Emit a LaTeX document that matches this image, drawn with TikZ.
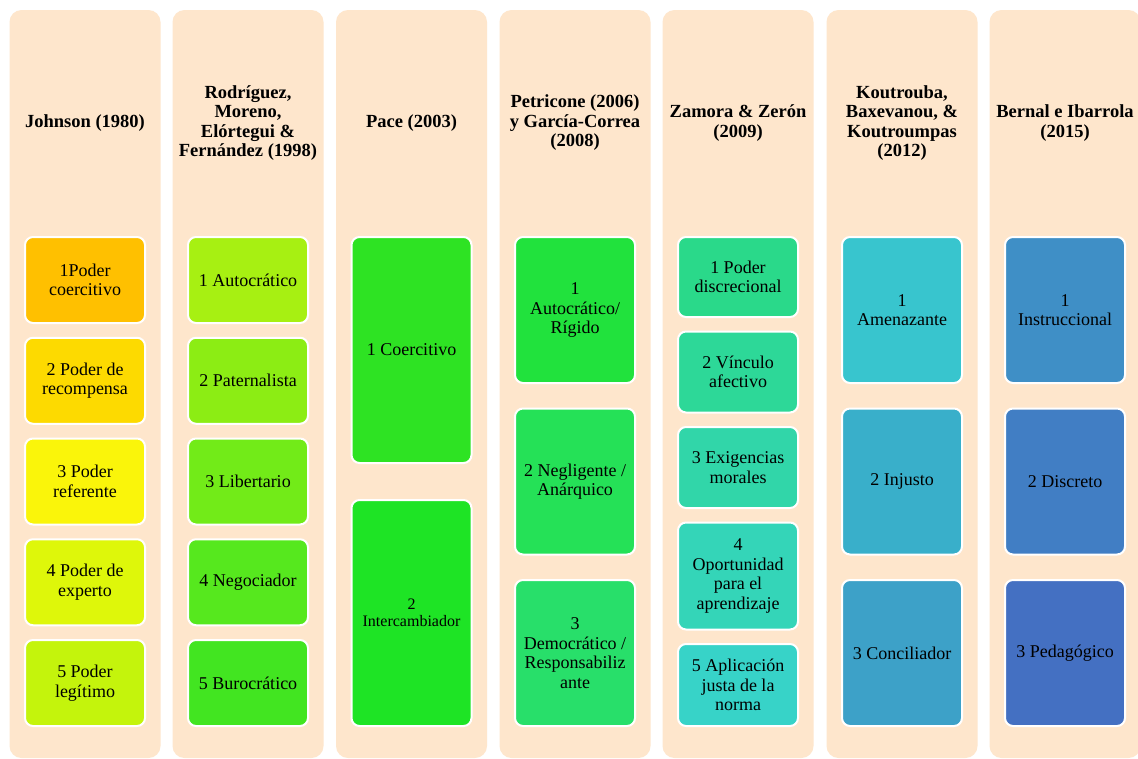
\documentclass[tikz,border=0pt]{standalone}
\usepackage{fontspec}
\setmainfont{LiberationSerif}[Extension=.ttf, UprightFont=*-Regular, BoldFont=*-Bold, ItalicFont=*-Italic, BoldItalicFont=*-BoldItalic]
\usetikzlibrary{positioning}

\definecolor{colbg}{HTML}{FEE6CC}
% Johnson
\definecolor{jA}{HTML}{FFC000}
\definecolor{jB}{HTML}{FDDA00}
\definecolor{jC}{HTML}{FAF50A}
\definecolor{jD}{HTML}{DEF70A}
\definecolor{jE}{HTML}{C4F40C}
% Rodriguez
\definecolor{rA}{HTML}{A7F012}
\definecolor{rB}{HTML}{8CED14}
\definecolor{rC}{HTML}{72EB18}
\definecolor{rD}{HTML}{56E81E}
\definecolor{rE}{HTML}{42E521}
% Pace
\definecolor{pA}{HTML}{2EE323}
\definecolor{pB}{HTML}{1EE425}
% Petricone
\definecolor{gA}{HTML}{21E23D}
\definecolor{gB}{HTML}{25E157}
\definecolor{gC}{HTML}{28DF6A}
% Zamora
\definecolor{zA}{HTML}{2AD98A}
\definecolor{zB}{HTML}{2DD898}
\definecolor{zC}{HTML}{31D6A9}
\definecolor{zD}{HTML}{34D5B8}
\definecolor{zE}{HTML}{37D3C8}
% Koutrouba
\definecolor{kA}{HTML}{38C5CE}
\definecolor{kB}{HTML}{39AFCA}
\definecolor{kC}{HTML}{3DA1C8}
% Bernal
\definecolor{bA}{HTML}{3F8FC6}
\definecolor{bB}{HTML}{417EC4}
\definecolor{bC}{HTML}{4470C2}

\begin{document}
\begin{tikzpicture}[x=1pt, y=-1pt,
    heading/.style={align=center, font=\fontsize{18.5}{19.5}\selectfont\bfseries},
    entry/.style={draw=white, line width=2pt, rounded corners=8pt, align=center,
      minimum width=120pt, inner sep=2pt, font=\fontsize{18}{19.5}\selectfont}]

  \clip (0,0) rectangle (1138,758);
  \fill[white] (0,0) rectangle (1138,758);

  % column backgrounds
  \foreach \cx in {85,248,411.5,575,738,902,1065}
    \fill[colbg, rounded corners=12pt] (\cx-75.5,10) rectangle (\cx+75.5,758);

  % headings
  \node[heading] (hJohnson) at (85,123) {Johnson (1980)};
  \node[heading] (hRodriguez) at (248,123) {Rodríguez,\\Moreno,\\Elórtegui \&\\Fernández (1998)};
  \node[heading] (hPace) at (411.5,123) {Pace (2003)};
  \node[heading] (hPetricone) at (575,123) {Petricone (2006)\\y García-Correa\\(2008)};
  \node[heading] (hZamora) at (738,123) {Zamora \& Zerón\\(2009)};
  \node[heading] (hKoutrouba) at (902,123) {Koutrouba,\\Baxevanou, \&\\Koutroumpas\\(2012)};
  \node[heading] (hBernal) at (1065,123) {Bernal e Ibarrola\\(2015)};

  % Johnson
  \node[entry, fill=jA, minimum height=86pt, anchor=north] (j1) at (85,236) {1Poder\\coercitivo};
  \node[entry, fill=jB, minimum height=86pt, below=12.75pt of j1] (j2) {2 Poder de\\recompensa};
  \node[entry, fill=jC, minimum height=86pt, below=12.75pt of j2] (j3) {3 Poder\\referente};
  \node[entry, fill=jD, minimum height=86pt, below=12.75pt of j3] (j4) {4 Poder de\\experto};
  \node[entry, fill=jE, minimum height=86pt, below=12.75pt of j4] (j5) {5 Poder\\legítimo};

  % Rodriguez et al.
  \node[entry, fill=rA, minimum height=86pt, anchor=north] (r1) at (248,236) {1 Autocrático};
  \node[entry, fill=rB, minimum height=86pt, below=12.75pt of r1] (r2) {2 Paternalista};
  \node[entry, fill=rC, minimum height=86pt, below=12.75pt of r2] (r3) {3 Libertario};
  \node[entry, fill=rD, minimum height=86pt, below=12.75pt of r3] (r4) {4 Negociador};
  \node[entry, fill=rE, minimum height=86pt, below=12.75pt of r4] (r5) {5 Burocrático};

  % Pace
  \node[entry, fill=pA, minimum height=226pt, anchor=north] (p1) at (411.5,236) {1 Coercitivo};
  \node[entry, fill=pB, minimum height=226pt, below=35pt of p1,
    font=\fontsize{16}{17}\selectfont] (p2) {2\\Intercambiador};

  % Petricone y Garcia-Correa
  \node[entry, fill=gA, minimum height=146pt, anchor=north] (g1) at (575,236) {1\\Autocrático/\\Rígido};
  \node[entry, fill=gB, minimum height=146pt, below=23.5pt of g1] (g2) {2 Negligente /\\Anárquico};
  \node[entry, fill=gC, minimum height=146pt, below=23.5pt of g2] (g3) {3\\Democrático /\\Responsabiliz\\ante};

  % Zamora y Zeron
  \node[entry, fill=zA, minimum height=80pt, anchor=north] (z1) at (738,236) {1 Poder\\discrecional};
  \node[entry, fill=zB, minimum height=81pt, below=12.5pt of z1] (z2) {2 Vínculo\\afectivo};
  \node[entry, fill=zC, minimum height=81pt, below=12.5pt of z2] (z3) {3 Exigencias\\morales};
  \node[entry, fill=zD, minimum height=107pt, below=12.5pt of z3] (z4) {4\\Oportunidad\\para el\\aprendizaje};
  \node[entry, fill=zE, minimum height=82pt, below=12.5pt of z4] (z5) {5 Aplicación\\justa de la\\norma};

  % Koutrouba et al.
  \node[entry, fill=kA, minimum height=146pt, anchor=north] (k1) at (902,236) {1\\Amenazante};
  \node[entry, fill=kB, minimum height=146pt, below=23.5pt of k1] (k2) {2 Injusto};
  \node[entry, fill=kC, minimum height=146pt, below=23.5pt of k2] (k3) {3 Conciliador};

  % Bernal e Ibarrola
  \node[entry, fill=bA, minimum height=146pt, anchor=north] (b1) at (1065,236) {1\\Instruccional};
  \node[entry, fill=bB, minimum height=146pt, below=23.5pt of b1] (b2) {2 Discreto};
  \node[entry, fill=bC, minimum height=146pt, below=23.5pt of b2] (b3) {3 Pedagógico};
\end{tikzpicture}
\end{document}
